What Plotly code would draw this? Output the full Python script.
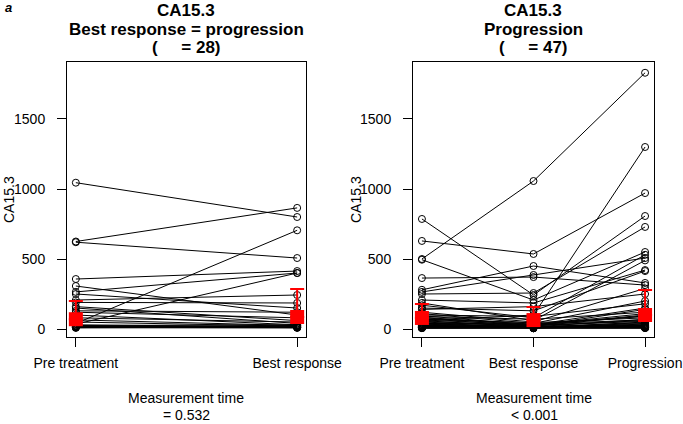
import plotly.graph_objects as go

# ---------------- data ----------------
left_categories = ["Pre treatment", "Best response"]
left_pre = [1045, 625, 620, 357, 307, 265, 250, 207, 190, 160, 150, 130, 120, 100,
            80, 65, 50, 40, 35, 30, 25, 20, 20, 15, 15, 12, 10, 8]
left_best = [800, 865, 507, 414, 100, 400, 150, 243, 186, 60, 40, 120, 80, 30,
             50, 25, 20, 705, 400, 15, 30, 10, 20, 15, 12, 8, 25, 10]
left_summary = [70, 86]
left_summary_upper = [200, 286]

right_categories = ["Pre treatment", "Best response", "Progression"]
right_pre = [500, 786, 629, 495, 364, 280, 265, 250, 60, 207, 186, 150, 170, 140,
             120, 110, 100, 95, 90, 85, 80, 75, 70, 65, 60, 55, 50, 45, 40, 38,
             35, 30, 28, 25, 22, 20, 18, 16, 15, 14, 12, 10, 10, 9, 8, 7, 6]
right_best = [1057, 243, 536, 207, 371, 450, 386, 257, 100, 186, 60, 130, 80, 160,
              50, 40, 90, 30, 70, 25, 35, 20, 45, 30, 15, 25, 20, 10, 35, 15,
              12, 25, 10, 18, 8, 15, 12, 10, 8, 12, 10, 9, 8, 7, 6, 6, 5]
right_prog = [1830, 807, 971, 550, 314, 329, 507, 729, 1300, 421, 490, 414, 530, 250,
              290, 200, 180, 150, 120, 100, 90, 140, 80, 110, 70, 60, 95, 50, 65, 45,
              40, 55, 35, 30, 28, 25, 22, 20, 18, 15, 14, 12, 10, 9, 8, 8, 7]
right_summary = [79, 64, 100]
right_summary_upper = [179, 157, 279]

W, H = 683, 424
FONT = "Liberation Sans, Arial, sans-serif"

def px_x(p):
    return p / W

def px_y(p):
    return 1 - p / H

fig = go.Figure()

def add_panel(series, cats, summary, upper, xa, ya):
    xs, ys = [], []
    n = len(series[0])
    for i in range(n):
        for j, s in enumerate(series):
            xs.append(j)
            ys.append(s[i])
        xs.append(None)
        ys.append(None)
    fig.add_trace(go.Scatter(
        x=xs, y=ys, mode="lines+markers", xaxis=xa, yaxis=ya,
        line=dict(color="black", width=1),
        marker=dict(symbol="circle-open", size=7, color="black", line=dict(width=1)),
        showlegend=False, hoverinfo="skip", connectgaps=False))
    fig.add_trace(go.Scatter(
        x=list(range(len(cats))), y=summary, mode="markers", xaxis=xa, yaxis=ya,
        marker=dict(symbol="square", size=14, color="#ff0000"),
        error_y=dict(type="data", symmetric=False,
                     array=[u - s for u, s in zip(upper, summary)],
                     arrayminus=[0] * len(summary),
                     color="#ff0000", thickness=2, width=7),
        showlegend=False, hoverinfo="skip"))

add_panel([left_pre, left_best], left_categories, left_summary, left_summary_upper, "x", "y")
add_panel([right_pre, right_best, right_prog], right_categories, right_summary,
          right_summary_upper, "x2", "y2")

yrange = [-57, 1907]
axis_common = dict(showline=True, mirror=True, linecolor="black", linewidth=1,
                   ticks="outside", ticklen=9, tickcolor="black", tickwidth=1,
                   showgrid=False, zeroline=False, automargin=False,
                   tickfont=dict(family=FONT, size=14, color="black"))

ydom = [px_y(337), px_y(62)]
fig.update_layout(
    width=W, height=H, margin=dict(l=0, r=0, t=0, b=0, autoexpand=False),
    paper_bgcolor="white", plot_bgcolor="white",
    xaxis=dict(domain=[px_x(67), px_x(306)], range=[-0.04, 1.04],
               tickvals=[0, 1], ticktext=left_categories, anchor="y",
               ticklabelstandoff=4, **axis_common),
    yaxis=dict(domain=ydom, range=yrange, tickvals=[0, 500, 1000, 1500],
               anchor="x", ticklabelstandoff=9, **axis_common),
    xaxis2=dict(domain=[px_x(413), px_x(654)], range=[-0.08, 2.08],
                tickvals=[0, 1, 2], ticktext=right_categories, anchor="y2",
                ticklabelstandoff=4, **axis_common),
    yaxis2=dict(domain=ydom, range=yrange, tickvals=[0, 500, 1000, 1500],
                anchor="x2", ticklabelstandoff=9, **axis_common),
)

ann = []
def text(x, y, s, size=14, bold=False, angle=0, italic=False):
    t = s
    if bold:
        t = "<b>" + t + "</b>"
    if italic:
        t = "<i>" + t + "</i>"
    ann.append(dict(x=px_x(x), y=px_y(y), xref="paper", yref="paper", text=t,
                    showarrow=False, textangle=angle, xanchor="center", yanchor="middle",
                    borderpad=0,
                    font=dict(family=FONT, size=size, color="black")))

nb = "\u00a0"
# left titles
text(186, 11, "CA15.3", 17, True)
text(186, 29.5, "Best response = progression", 17, True)
text(186, 48, "(" + nb * 5 + "= 28)", 17, True)
# right titles
text(533, 11, "CA15.3", 17, True)
text(533, 29.5, "Progression", 17, True)
text(533, 48, "(" + nb * 5 + "= 47)", 17, True)
# y titles
text(9, 200, "CA15.3", 14, angle=-90)
text(356, 200, "CA15.3", 14, angle=-90)
# x titles
text(186, 398, "Measurement time", 14)
text(186, 415, "= 0.532", 14)
text(534, 398, "Measurement time", 14)
text(534, 415, "< 0.001", 14)
# panel label
text(8, 8, "a", 13, True, italic=True)

fig.update_layout(annotations=ann)
fig.write_html("out.html", config={"displayModeBar": False},
               post_script="document.body.style.margin='0';document.body.style.overflow='hidden';")
